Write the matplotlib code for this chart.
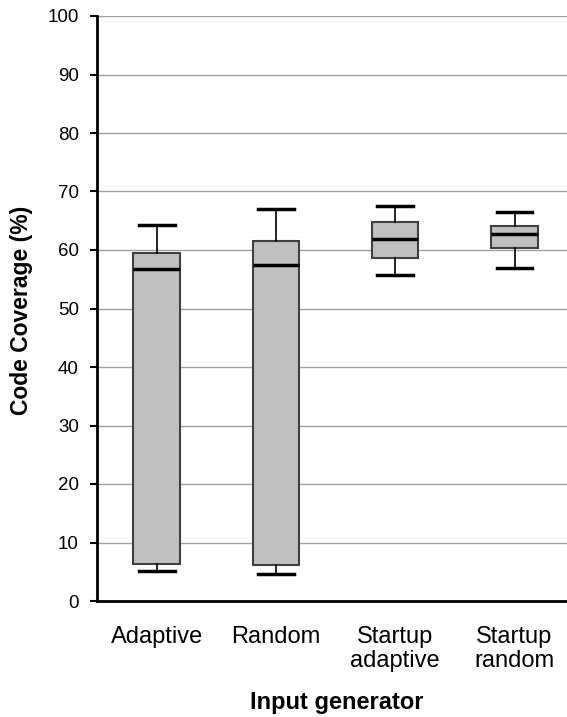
import matplotlib
matplotlib.use("Agg")
import matplotlib.pyplot as plt

plt.rcParams['font.family'] = ['Liberation Sans', 'DejaVu Sans']

categories = ["Adaptive", "Random", "Startup\nadaptive", "Startup\nrandom"]
whisker_low = [5.2, 4.6, 55.8, 56.9]
q1 = [6.4, 6.2, 58.7, 60.3]
median = [56.7, 57.4, 61.9, 62.8]
q3 = [59.5, 61.5, 64.8, 64.1]
whisker_high = [64.2, 67.0, 67.5, 66.5]
yticks = list(range(0, 101, 10))

fig = plt.figure(figsize=(5.67, 7.17), dpi=100)
W, H = 567, 717
left, right, top, bottom = 97, 567, 16, 601
ax = fig.add_axes([left / W, 1 - bottom / H, (right - left) / W, (bottom - top) / H])

stats = []
for i in range(len(categories)):
    stats.append(dict(whislo=whisker_low[i], q1=q1[i], med=median[i], q3=q3[i],
                      whishi=whisker_high[i], fliers=[], label=categories[i]))

ax.bxp(stats, positions=range(len(categories)), widths=0.39, patch_artist=True,
       showfliers=False,
       boxprops=dict(facecolor='#c0c0c0', edgecolor='#404040', linewidth=1.5),
       medianprops=dict(color='black', linewidth=2.5),
       whiskerprops=dict(color='black', linewidth=1.2),
       capprops=dict(color='black', linewidth=2.5),
       capwidths=0.3, zorder=3)

ax.set_xlim(-0.5, 3.44)
ax.set_ylim(0, 100)
ax.set_yticks(yticks)
ax.yaxis.grid(True, color='#a0a0a0', linewidth=1)
ax.set_axisbelow(True)
for s in ['top', 'right']:
    ax.spines[s].set_visible(False)
ax.spines['left'].set_linewidth(2)
ax.spines['bottom'].set_linewidth(2)
ax.tick_params(axis='y', direction='out', length=5, width=1.5, labelsize=13.5, pad=8)
ax.tick_params(axis='x', length=0, labelsize=17, pad=18)
ax.set_xticks(range(len(categories)))
ax.set_xticklabels(categories, linespacing=1.12)

fig.text(22 / W, 1 - 310 / H, "Code Coverage (%)", fontsize=16.5, fontweight='bold',
         rotation=90, ha='center', va='center')
fig.text(337 / W, 1 - 702 / H, "Input generator", fontsize=17, fontweight='bold',
         ha='center', va='center')

fig.savefig("out.png", dpi=100)
